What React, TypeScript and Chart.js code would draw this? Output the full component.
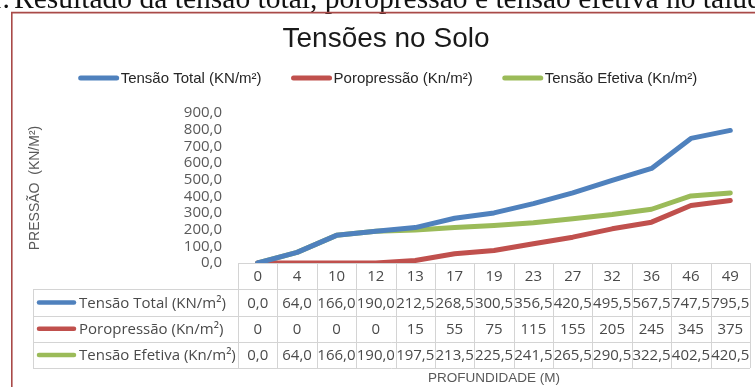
import React, { useEffect, useRef } from "react";
import { Chart, registerables } from "chart.js";

Chart.register(...registerables);

// Depth (m) for each column of the data table
const depths = ["0", "4", "10", "12", "13", "17", "19", "23", "27", "32", "36", "46", "49"];
// Stress series in kN/m²
const totalStress = [0, 64, 166, 190, 212.5, 268.5, 300.5, 356.5, 420.5, 495.5, 567.5, 747.5, 795.5];
const porePressure = [0, 0, 0, 0, 15, 55, 75, 115, 155, 205, 245, 345, 375];
const effectiveStress = [0, 64, 166, 190, 197.5, 213.5, 225.5, 241.5, 265.5, 290.5, 322.5, 402.5, 420.5];

const seriesNames = ["Tensão Total (KN/m²)", "Poropressão (Kn/m²)", "Tensão Efetiva (Kn/m²)"];
const seriesColors = ["#4F81BD", "#C0504D", "#9BBB59"];
const seriesDecimals = [1, 0, 1];

const chartTitle = "Tensões no Solo";
const yTitle = "PRESSÃO  (KN/M²)";
const xTitle = "PROFUNDIDADE (M)";
const captionNumber = "1.";
const caption = "Resultado da tensão total, poropressão e tensão efetiva no talude";

const W = 755;
const H = 387;
const PLOT_TOP = 113;
const PLOT_BOTTOM = 263;
const PLOT_LEFT = 238;
const PLOT_RIGHT = 750;
const ROW_H = 26.25;
const TABLE_LEFT = 33;

const SANS = '"Liberation Sans", Arial, sans-serif';
const TABLE_FONT = '"Open Sans", sans-serif';

const fmt = (v: number, d: number) => v.toFixed(d).replace(".", ",");

const decorations = {
  id: "decorations",
  beforeDraw(chart: any) {
    const ctx = chart.ctx;
    ctx.save();
    ctx.fillStyle = "#ffffff";
    ctx.fillRect(0, 0, W, H);

    // document caption above the chart frame
    ctx.fillStyle = "#111111";
    ctx.textBaseline = "alphabetic";
    ctx.textAlign = "left";
    ctx.font = '100px "Liberation Serif", serif';
    const ref = ctx.measureText("Resultado da tensão total, ").width;
    const size = (311 / ref) * 100;
    ctx.font = `${size}px "Liberation Serif", serif`;
    const numW = ctx.measureText(captionNumber).width;
    ctx.fillText(captionNumber, 10 - numW, 8);
    ctx.fillText(caption, 14, 8);

    // chart frame
    ctx.strokeStyle = "#A94A48";
    ctx.lineWidth = 1.6;
    ctx.beginPath();
    ctx.moveTo(11.8, H + 5);
    ctx.lineTo(11.8, 12.6);
    ctx.lineTo(W + 5, 12.6);
    ctx.stroke();

    // title
    ctx.fillStyle = "#1a1a1a";
    ctx.font = `28px ${SANS}`;
    ctx.textAlign = "center";
    ctx.fillText(chartTitle, 386, 47);

    // legend
    ctx.font = `15px ${SANS}`;
    ctx.textAlign = "left";
    ctx.textBaseline = "middle";
    const sw = 40;
    const gap = 2;
    const itemGap = 30;
    const widths = seriesNames.map((n) => sw + gap + ctx.measureText(n).width);
    const total = widths.reduce((a, b) => a + b, 0) + itemGap * (widths.length - 1);
    let x = 388 - total / 2;
    const ly = 78;
    seriesNames.forEach((n, i) => {
      ctx.strokeStyle = seriesColors[i];
      ctx.lineWidth = 5;
      ctx.lineCap = "round";
      ctx.beginPath();
      ctx.moveTo(x + 2, ly);
      ctx.lineTo(x + sw - 2, ly);
      ctx.stroke();
      ctx.fillStyle = "#262626";
      ctx.fillText(n, x + sw + gap, ly + 0.5);
      x += widths[i] + itemGap;
    });

    // y axis title
    ctx.save();
    ctx.translate(35, 188);
    ctx.rotate(-Math.PI / 2);
    ctx.textAlign = "center";
    ctx.fillStyle = "#595959";
    ctx.font = `14px ${SANS}`;
    ctx.fillText(yTitle, 0, 0);
    ctx.restore();

    // x axis title
    ctx.textAlign = "center";
    ctx.fillStyle = "#595959";
    ctx.font = `13.5px ${SANS}`;
    ctx.fillText(xTitle, (PLOT_LEFT + PLOT_RIGHT) / 2, 378);
    ctx.restore();
  },
  beforeDatasetsDraw(chart: any) {
    const ctx = chart.ctx;
    const xs = chart.scales.x;
    const n = depths.length;
    const colW = (xs.right - xs.left) / n;
    const left = xs.left;
    const right = xs.right;
    const top = PLOT_BOTTOM;
    const rows = [top, top + ROW_H, top + 2 * ROW_H, top + 3 * ROW_H, top + 4 * ROW_H];
    const snap = (v: number) => Math.round(v) + 0.5;

    ctx.save();
    ctx.strokeStyle = "#D4D4D4";
    ctx.lineWidth = 1;
    ctx.beginPath();
    // horizontal lines
    ctx.moveTo(left, snap(rows[0]));
    ctx.lineTo(right, snap(rows[0]));
    for (let r = 1; r < rows.length; r++) {
      ctx.moveTo(TABLE_LEFT, snap(rows[r]));
      ctx.lineTo(right, snap(rows[r]));
    }
    // vertical lines
    for (let c = 0; c <= n; c++) {
      const vx = snap(left + c * colW);
      ctx.moveTo(vx, rows[0]);
      ctx.lineTo(vx, rows[4]);
    }
    ctx.moveTo(snap(TABLE_LEFT), rows[1]);
    ctx.lineTo(snap(TABLE_LEFT), rows[4]);
    ctx.stroke();

    ctx.textAlign = "center";
    ctx.textBaseline = "middle";
    ctx.fillStyle = "#4a4a4a";
    ctx.font = `15px ${TABLE_FONT}`;
    depths.forEach((d, i) => {
      ctx.fillText(d, xs.getPixelForValue(i), (rows[0] + rows[1]) / 2 + 1);
    });
    const series = [totalStress, porePressure, effectiveStress];
    series.forEach((vals, r) => {
      const cy = (rows[r + 1] + rows[r + 2]) / 2 + 1;
      vals.forEach((v, i) => {
        ctx.fillText(fmt(v, seriesDecimals[r]), xs.getPixelForValue(i), cy);
      });
      // row header with line key
      ctx.strokeStyle = seriesColors[r];
      ctx.lineWidth = 4.5;
      ctx.lineCap = "round";
      ctx.beginPath();
      ctx.moveTo(39, cy - 1);
      ctx.lineTo(74, cy - 1);
      ctx.stroke();
      ctx.textAlign = "left";
      ctx.fillText(seriesNames[r], 79, cy);
      ctx.textAlign = "center";
    });
    ctx.restore();
  },
};

export default function App() {
  const canvasRef = useRef<HTMLCanvasElement | null>(null);

  useEffect(() => {
    document.body.style.margin = "0";
    const canvas = canvasRef.current;
    if (!canvas) return;
    const mkSet = (label: string, data: number[], color: string) => ({
      label,
      data,
      borderColor: color,
      backgroundColor: color,
      borderWidth: 5,
      pointRadius: 0,
      pointHoverRadius: 0,
      tension: 0,
      borderCapStyle: "round" as const,
      borderJoinStyle: "round" as const,
      fill: false,
    });
    const chart = new Chart(canvas, {
      type: "line",
      data: {
        labels: depths,
        datasets: [
          mkSet(seriesNames[0], totalStress, seriesColors[0]),
          mkSet(seriesNames[1], porePressure, seriesColors[1]),
          mkSet(seriesNames[2], effectiveStress, seriesColors[2]),
        ],
      },
      options: {
        responsive: false,
        animation: false,
        devicePixelRatio: 1,
        layout: {
          padding: { left: 0, top: PLOT_TOP, right: W - PLOT_RIGHT, bottom: H - PLOT_BOTTOM },
        },
        plugins: {
          legend: { display: false },
          title: { display: false },
          tooltip: { enabled: false },
        },
        scales: {
          x: {
            type: "category",
            display: false,
            offset: true,
          },
          y: {
            min: 0,
            max: 900,
            grid: { display: false, drawTicks: false },
            border: { display: false },
            ticks: {
              stepSize: 100,
              autoSkip: false,
              padding: 16,
              color: "#595959",
              font: { family: '"Open Sans", sans-serif', size: 15 },
              callback: (v: any) => fmt(Number(v), 1),
            },
            afterFit: (scale: any) => {
              scale.width = PLOT_LEFT;
            },
          },
        },
      },
      plugins: [decorations],
    });
    return () => chart.destroy();
  }, []);

  return (
    <div style={{ position: "fixed", left: 0, top: 0, width: W, height: H }}>
      <canvas ref={canvasRef} width={W} height={H} style={{ display: "block" }} />
    </div>
  );
}
